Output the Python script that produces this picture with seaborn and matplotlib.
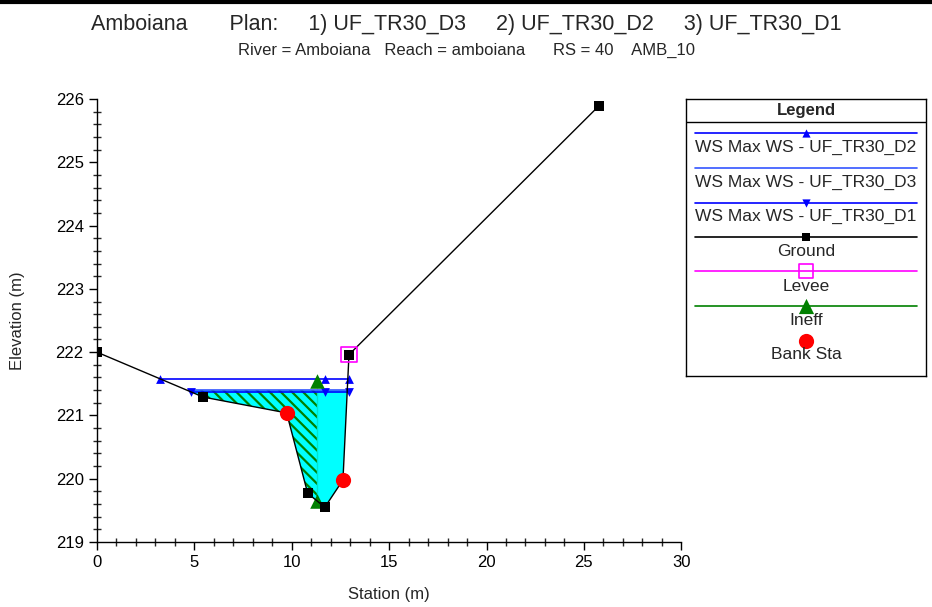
import numpy as np
import pandas as pd
import matplotlib
matplotlib.use('Agg')
import matplotlib.pyplot as plt
import seaborn as sns
from matplotlib.lines import Line2D
from matplotlib.ticker import MultipleLocator

# Cross section data
ground_sta = [0.0, 5.46, 9.74, 10.82, 11.70, 12.63, 12.94, 25.77]
ground_elev = [222.0, 221.29, 221.04, 219.77, 219.55, 219.98, 221.96, 225.89]

ws_d2_sta = [3.25, 11.70, 12.94]
ws_d2_elev = [221.58, 221.58, 221.58]
ws_d3_sta = [4.70, 12.94]
ws_d3_elev = [221.40, 221.40]
ws_d1_sta = [4.85, 11.70, 12.94]
ws_d1_elev = [221.37, 221.37, 221.37]

levee_sta = [12.94]
levee_elev = [221.96]
ineff_sta = [11.29, 11.29]
ineff_elev = [221.55, 219.65]
bank_sta = [9.74, 12.63]
bank_elev = [221.04, 219.98]

legend_labels = ['WS Max WS - UF_TR30_D2', 'WS Max WS - UF_TR30_D3', 'WS Max WS - UF_TR30_D1',
                 'Ground', 'Levee', 'Ineff', 'Bank Sta']

sns.set_style('white')
plt.rcParams['font.family'] = ['Liberation Sans', 'DejaVu Sans']
plt.rcParams['hatch.linewidth'] = 1.6

fig = plt.figure(figsize=(9.32, 6.07), dpi=100)
ax = fig.add_axes([0.104, 0.107, 0.627, 0.730])

# water fill: ground below the water surface
ws = ws_d3_elev[0]
gs = np.array(ground_sta)
ge = np.array(ground_elev)
poly_x, poly_y = [], []
for i in range(len(gs) - 1):
    x0, y0, x1, y1 = gs[i], ge[i], gs[i + 1], ge[i + 1]
    if y0 <= ws:
        poly_x.append(x0); poly_y.append(y0)
    if (y0 - ws) * (y1 - ws) < 0:
        xc = x0 + (ws - y0) * (x1 - x0) / (y1 - y0)
        poly_x.append(xc); poly_y.append(ws)
ax.fill(poly_x, poly_y, color='#00FFFF', lw=0, zorder=1)

# ineffective (hatched) part left of the ineff line
xi = ineff_sta[0]
hx = [x for x in poly_x if x < xi]
hy = [y for x, y in zip(poly_x, poly_y) if x < xi]
hx += [xi, xi]
hy += [float(np.interp(xi, gs, ge)), ws]
ax.fill(hx, hy, facecolor='none', edgecolor='#008000', hatch='\\\\\\', lw=0, zorder=2)

blue = '#0000FF'
sns.lineplot(x=ws_d2_sta, y=ws_d2_elev, color=blue, lw=1.2, ax=ax, zorder=4)
sns.scatterplot(x=ws_d2_sta, y=ws_d2_elev, color=blue, marker='^', s=40, linewidth=0, ax=ax, zorder=5)
sns.lineplot(x=ws_d3_sta, y=ws_d3_elev, color='#3355FF', lw=1.2, ax=ax, zorder=4)
sns.lineplot(x=ws_d1_sta, y=ws_d1_elev, color=blue, lw=1.2, ax=ax, zorder=4)
sns.scatterplot(x=ws_d1_sta, y=ws_d1_elev, color=blue, marker='v', s=40, linewidth=0, ax=ax, zorder=5)

sns.lineplot(x=ineff_sta, y=ineff_elev, color='#008000', lw=1.2, sort=False, ax=ax, zorder=5)
sns.scatterplot(x=ineff_sta, y=ineff_elev, color='#008000', marker='^', s=110, linewidth=0, ax=ax, zorder=6)

sns.lineplot(x=ground_sta, y=ground_elev, color='black', lw=1.0, sort=False, ax=ax, zorder=6)
sns.scatterplot(x=ground_sta, y=ground_elev, color='black', marker='s', s=48, linewidth=0, ax=ax, zorder=7)
ax.scatter(levee_sta, levee_elev, marker='s', s=120, facecolor='none', edgecolor='#FF00FF', lw=1.2, zorder=8)
sns.scatterplot(x=bank_sta, y=bank_elev, color='#FF0000', marker='o', s=120, linewidth=0, ax=ax, zorder=8)

ax.set_xlim(0, 30)
ax.set_ylim(219, 226)
ax.xaxis.set_major_locator(MultipleLocator(5))
ax.xaxis.set_minor_locator(MultipleLocator(1))
ax.yaxis.set_major_locator(MultipleLocator(1))
ax.yaxis.set_minor_locator(MultipleLocator(0.2))
ax.tick_params(which='major', direction='out', length=6, width=1, labelsize=12, colors='black', bottom=True, left=True)
ax.tick_params(which='minor', direction='inout', length=6, width=1, bottom=True, left=True)
for s in ['top', 'right']:
    ax.spines[s].set_visible(False)
for s in ['left', 'bottom']:
    ax.spines[s].set_color('black')
    ax.spines[s].set_linewidth(1)
ax.set_xlabel('Station (m)', fontsize=12, labelpad=12)
ax.set_ylabel('Elevation (m)', fontsize=12, labelpad=22)
ax.set_facecolor('white')

# titles
fig.text(0.5, 0.960, 'Amboiana       Plan:     1) UF_TR30_D3     2) UF_TR30_D2     3) UF_TR30_D1',
         ha='center', va='center', fontsize=15.5)
fig.text(0.501, 0.917, 'River = Amboiana   Reach = amboiana      RS = 40    AMB_10',
         ha='center', va='center', fontsize=12)
fig.add_artist(Line2D([0, 1], [0.997, 0.997], color='black', lw=3))

# legend panel
lg = fig.add_axes([0.736, 0.3806, 0.2575, 0.4563])
lg.set_xlim(0, 240)
lg.set_ylim(277, 0)
lg.set_xticks([])
lg.set_yticks([])
for s in lg.spines.values():
    s.set_color('black')
    s.set_linewidth(1)
lg.text(120, 11, 'Legend', ha='center', va='center', fontsize=12, fontweight='bold')
lg.axhline(23, color='black', lw=1)
styles = [(blue, '^', 'full', 35), ('#3355FF', None, 'full', 0), (blue, 'v', 'full', 35),
          ('black', 's', 'full', 40), ('#FF00FF', 's', 'none', 110), ('#008000', '^', 'full', 120),
          (None, 'o', 'full', 120)]
line_y = [34, 69, 104, 138, 172, 207, 242]
text_y = [48, 83, 117, 153, 188, 222, 256]
for lab, (c, m, fill, sz), ly, ty in zip(legend_labels, styles, line_y, text_y):
    if c is not None:
        lg.plot([9, 231], [ly, ly], color=c, lw=1.2)
    if m is not None:
        if fill == 'none':
            lg.scatter([120], [ly], marker=m, s=sz, facecolor='none', edgecolor=c, lw=1.2, zorder=3)
        else:
            lg.scatter([120], [ly], marker=m, s=sz, color=c if c else '#FF0000', lw=0, zorder=3)
    lg.text(120, ty, lab, ha='center', va='center', fontsize=12.5)

fig.savefig('out.png', dpi=100, facecolor='white')
